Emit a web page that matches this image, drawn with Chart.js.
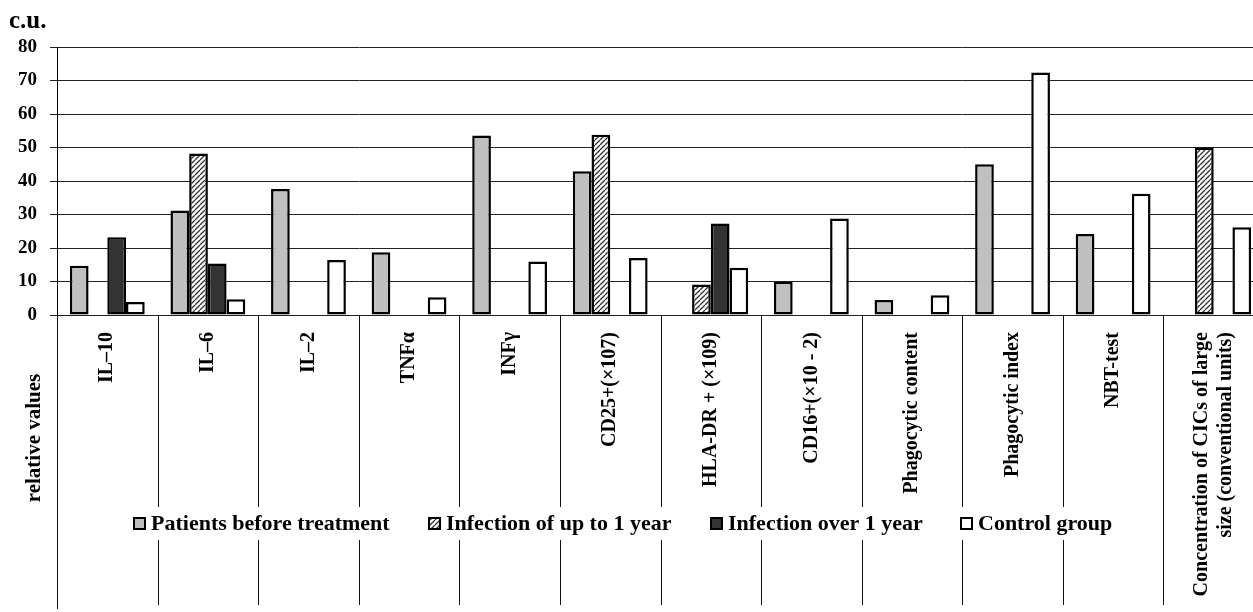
<!DOCTYPE html>
<html>
<head>
<meta charset="utf-8">
<title>Immune status indicators</title>
<script src="https://cdn.jsdelivr.net/npm/chart.js@4.4.1/dist/chart.umd.min.js"></script>
<style>
    html, body { margin: 0; padding: 0; background: #fff; overflow: hidden; }
    #wrap { width: 1266px; height: 612px; }
</style>
</head>
<body>
<div id="wrap"><canvas id="immuneChart" width="1266" height="612"></canvas></div>
<script>
// Chart data
const categories = [
    'IL–10', 'IL–6', 'IL–2', 'TNFα', 'INFγ', 'CD25+(×107)', 'HLA-DR + (×109)',
    'CD16+(×10 - 2)', 'Phagocytic content', 'Phagocytic index', 'NBT-test',
    ['Concentration of CICs of large', 'size (conventional units)']
];
const seriesNames = ['Patients before treatment', 'Infection of up to 1 year', 'Infection over 1 year', 'Control group'];
const patientsBefore = [14.7, 31.2, 37.6, 18.7, 53.6, 42.9, null, 9.9, 4.5, 45.0, 24.2, null];
const infectionUpTo1 = [null, 48.2, null, null, null, 53.8, 9.1, null, null, null, null, 50.0];
const infectionOver1 = [23.2, 15.4, null, null, null, null, 27.3, null, null, null, null, null];
const controlGroup = [3.9, 4.7, 16.4, 5.3, 16.0, 17.0, 14.1, 28.8, 5.9, 72.4, 36.2, 26.2];
const yMin = 0, yMax = 80, yStep = 10;

const FONT = "'Liberation Serif', 'Times New Roman', serif";

function makeHatch() {
    const c = document.createElement('canvas');
    c.width = 5; c.height = 5;
    const g = c.getContext('2d');
    g.fillStyle = '#fff';
    g.fillRect(0, 0, 5, 5);
    g.strokeStyle = '#333';
    g.lineWidth = 1.3;
    [-5, 0, 5].forEach(k => {
        g.beginPath();
        g.moveTo(k, 5);
        g.lineTo(k + 5, 0);
        g.stroke();
    });
    return g.createPattern(c, 'repeat');
}

const hatch = makeHatch();
const fills = ['#c0c0c0', hatch, '#333333', '#ffffff'];

// separators under the axis, category labels, side texts and the legend
const decorPlugin = {
    id: 'decor',
    afterDraw(chart) {
        const ctx = chart.ctx;
        const xs = chart.scales.x;
        const area = chart.chartArea;
        const step = xs.getPixelForValue(1) - xs.getPixelForValue(0);

        ctx.save();
        ctx.strokeStyle = '#111';
        ctx.lineWidth = 1;
        for (let i = 1; i < categories.length; i++) {
            const px = Math.round(xs.getPixelForValue(i) - step / 2) + 0.5;
            ctx.beginPath();
            ctx.moveTo(px, area.bottom);
            ctx.lineTo(px, 605);
            ctx.stroke();
        }
        // left axis runs down through the label area
        ctx.beginPath();
        ctx.moveTo(Math.round(area.left) + 0.5, area.bottom);
        ctx.lineTo(Math.round(area.left) + 0.5, 609);
        ctx.stroke();

        // category labels, rotated
        ctx.fillStyle = '#000';
        ctx.font = 'bold 20px ' + FONT;
        ctx.textAlign = 'right';
        ctx.textBaseline = 'middle';
        categories.forEach((lab, i) => {
            const lines = Array.isArray(lab) ? lab : [lab];
            const cx = xs.getPixelForValue(i);
            lines.forEach((t, j) => {
                const off = (j - (lines.length - 1) / 2) * 24;
                ctx.save();
                ctx.translate(cx + off, 332);
                ctx.rotate(-Math.PI / 2);
                ctx.fillText(t, 0, 0);
                ctx.restore();
            });
        });

        // axis title texts
        ctx.save();
        ctx.font = 'bold 21px ' + FONT;
        ctx.textAlign = 'center';
        ctx.translate(35, 438);
        ctx.rotate(-Math.PI / 2);
        ctx.fillText('relative values', 0, 0);
        ctx.restore();

        ctx.font = 'bold 25px ' + FONT;
        ctx.textAlign = 'left';
        ctx.textBaseline = 'alphabetic';
        ctx.fillText('c.u.', 9, 28);

        // legend
        ctx.fillStyle = '#fff';
        ctx.fillRect(125, 507, 1005, 33);
        const legendX = [133, 428, 710, 960];
        const cy = 523;
        ctx.font = 'bold 22px ' + FONT;
        ctx.textBaseline = 'middle';
        seriesNames.forEach((name, i) => {
            const bx = legendX[i];
            ctx.fillStyle = fills[i];
            ctx.fillRect(bx, cy - 6, 13, 13);
            ctx.strokeStyle = '#000';
            ctx.lineWidth = 2;
            ctx.strokeRect(bx + 1, cy - 5, 11, 11);
            ctx.fillStyle = '#000';
            ctx.fillText(name, bx + 18, cy + 1);
        });
        ctx.restore();
    }
};

const barStyle = {
    borderColor: '#000',
    borderWidth: 2.5,
    borderSkipped: false,
    categoryPercentage: 0.744,
    barPercentage: 1
};

const ctx = document.getElementById('immuneChart').getContext('2d');
new Chart(ctx, {
    type: 'bar',
    data: {
        labels: categories,
        datasets: [
            Object.assign({ label: seriesNames[0], data: patientsBefore, backgroundColor: fills[0] }, barStyle),
            Object.assign({ label: seriesNames[1], data: infectionUpTo1, backgroundColor: fills[1] }, barStyle),
            Object.assign({ label: seriesNames[2], data: infectionOver1, backgroundColor: fills[2] }, barStyle),
            Object.assign({ label: seriesNames[3], data: controlGroup, backgroundColor: fills[3] }, barStyle)
        ]
    },
    options: {
        responsive: false,
        animation: false,
        layout: {
            padding: { left: 0, top: 47, right: 2, bottom: 0 }
        },
        plugins: {
            legend: { display: false },
            tooltip: { enabled: false }
        },
        scales: {
            x: {
                ticks: { display: false },
                grid: { display: false },
                border: { display: false },
                afterFit(scale) { scale.height = 612 - 315; }
            },
            y: {
                min: yMin,
                max: yMax,
                ticks: {
                    stepSize: yStep,
                    color: '#000',
                    padding: 13,
                    font: { family: FONT, size: 19, weight: 'bold' }
                },
                grid: {
                    color: '#222',
                    lineWidth: 1,
                    tickLength: 7
                },
                border: { display: true, color: '#000', width: 1 },
                afterFit(scale) { scale.width = 57; }
            }
        }
    },
    plugins: [decorPlugin]
});
</script>
</body>
</html>
